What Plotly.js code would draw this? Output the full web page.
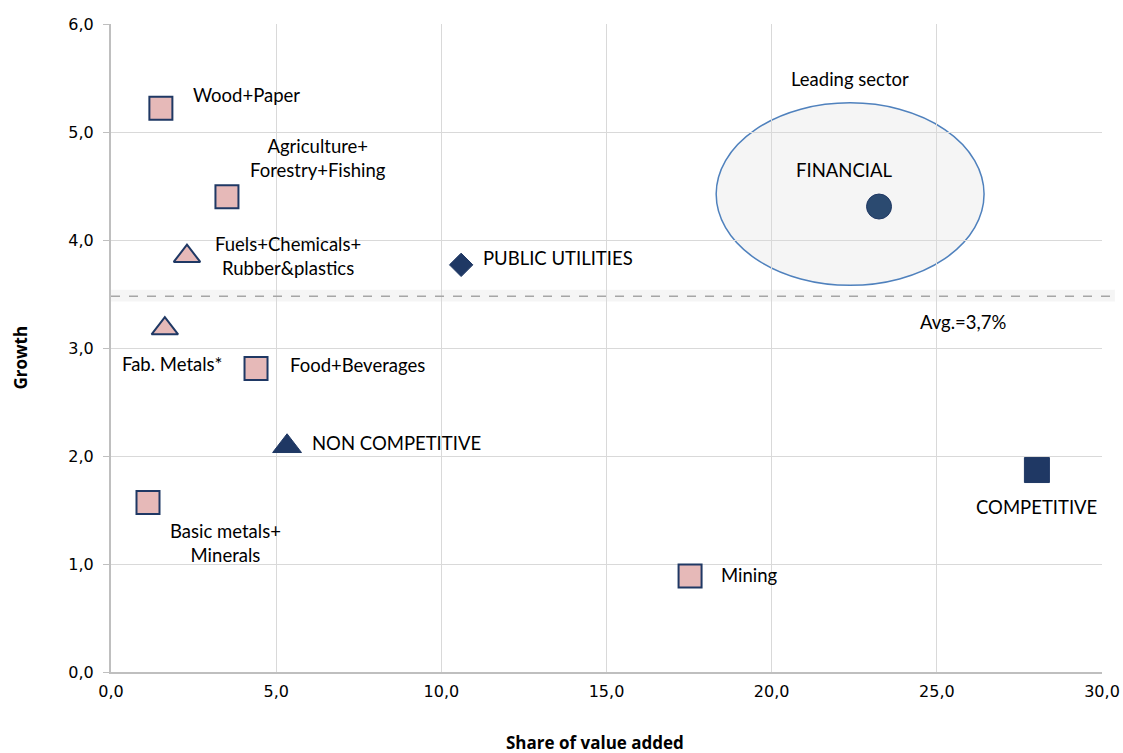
<!DOCTYPE html>
<html>
<head>
<meta charset="utf-8">
<script src="https://cdn.plot.ly/plotly-3.0.1.min.js"></script>
<style>html,body{margin:0;padding:0;background:#fff}#chart{width:1123px;height:753px}</style>
</head>
<body>
<div id="chart"></div>
<script>
// Data
const sectorNames = ["Wood+Paper","Agriculture+<br>Forestry+Fishing","Fuels+Chemicals+<br>Rubber&plastics","Fab. Metals*","Food+Beverages","Basic metals+<br>Minerals","Mining"];
const sectorShare = [1.51, 3.51, 2.30, 1.63, 4.39, 1.12, 17.53];
const sectorGrowth = [5.22, 4.40, 3.85, 3.18, 2.81, 1.57, 0.89];
const sectorSymbols = ["square","square","triangle-up","triangle-up","square","square","square"];

const groupNames = ["NON COMPETITIVE","PUBLIC UTILITIES","FINANCIAL","COMPETITIVE"];
const groupShare = [5.33, 10.6, 23.25, 28.03];
const groupGrowth = [2.09, 3.77, 4.31, 1.87];
const groupSymbols = ["triangle-up","diamond","circle","square"];

const avgGrowth = 3.48;
const avgLabel = "Avg.=3,7%";
const leadingEllipse = {x0: 18.32, x1: 26.43, y0: 3.58, y1: 5.27};
const leadingLabel = "Leading sector";
const xTitle = "Share of value added";
const yTitle = "Growth";

// label offsets (pixels) for readability
const sectorOffsets = [[86,13],[91,39],[101,0],[7,-35],[101,4],[77,-41],[59,1]];
const groupOffsets = [[109,3],[97,7],[-35,37],[0,-37]];

const labelFont = {family: "Lato, 'Open Sans', sans-serif", size: 18.5, color: "#000"};
const titleFont = {family: "'Open Sans', sans-serif", size: 17, color: "#000"};

const traces = [
  {
    type: "scatter", mode: "markers", x: sectorShare, y: sectorGrowth,
    marker: {symbol: sectorSymbols, size: sectorSymbols.map(s => s === "square" ? 23 : 23), opacity: 1,
      color: "#e6b9b8", line: {color: "#1f3864", width: 2}},
    hoverinfo: "skip", showlegend: false
  },
  {
    type: "scatter", mode: "markers", x: groupShare, y: groupGrowth,
    marker: {symbol: groupSymbols, size: [25, 18, 25, 25], opacity: 1,
      color: ["#1f3864","#1f3864","#2b4a70","#1f3864"], line: {color: "#1f3864", width: 1}},
    hoverinfo: "skip", showlegend: false
  }
];

const annotations = [];
sectorNames.forEach((n, i) => annotations.push({
  x: sectorShare[i], y: sectorGrowth[i], text: n, showarrow: false,
  xshift: sectorOffsets[i][0], yshift: sectorOffsets[i][1], font: labelFont, align: "center"
}));
groupNames.forEach((n, i) => annotations.push({
  x: groupShare[i], y: groupGrowth[i], text: n, showarrow: false,
  xshift: groupOffsets[i][0], yshift: groupOffsets[i][1], font: labelFont, align: "center"
}));
annotations.push({x: (leadingEllipse.x0 + leadingEllipse.x1) / 2, y: leadingEllipse.y1, text: leadingLabel,
  showarrow: false, yshift: 24, font: labelFont});
annotations.push({x: 25.8, y: avgGrowth, text: avgLabel, showarrow: false, yshift: -26, font: labelFont});
annotations.push({xref: "paper", yref: "paper", x: 0.488, y: -0.109, yanchor: "middle", xanchor: "center",
  text: "<b>" + xTitle + "</b>", showarrow: false, font: titleFont});
annotations.push({xref: "paper", yref: "paper", x: -0.091, y: 0.485, xanchor: "center", yanchor: "middle",
  textangle: -90, text: "<b>" + yTitle + "</b>", showarrow: false, font: titleFont});

const tickFont = {family: "'DejaVu Sans', Verdana, sans-serif", size: 16, color: "#000"};

const layout = {
  width: 1123, height: 753,
  margin: {l: 111, r: 21, t: 24, b: 81},
  paper_bgcolor: "#fff", plot_bgcolor: "#fff",
  separators: ", ",
  font: {family: "'DejaVu Sans', Verdana, sans-serif", size: 16, color: "#000"},
  xaxis: {
    range: [0, 30], dtick: 5, tickformat: ".1f", showgrid: true, gridcolor: "#d9d9d9", gridwidth: 1,
    zeroline: false, showline: true, linecolor: "#bfbfbf", linewidth: 2, ticks: "",
    tickfont: tickFont, ticklabelstandoff: 4
  },
  yaxis: {
    range: [0, 6], dtick: 1, tickformat: ".1f", showgrid: true, gridcolor: "#d9d9d9", gridwidth: 1,
    zeroline: false, showline: true, linecolor: "#bfbfbf", linewidth: 2, ticks: "outside", ticklen: 6, tickcolor: "#bfbfbf",
    tickfont: tickFont, ticklabelstandoff: 6
  },
  shapes: [
    {type: "rect", xref: "paper", yref: "y", x0: 0, x1: 1.013, y0: avgGrowth - 0.05, y1: avgGrowth + 0.06,
      fillcolor: "rgba(238,238,238,0.6)", line: {width: 0}, layer: "below"},
    {type: "line", xref: "paper", yref: "y", x0: 0, x1: 1.013, y0: avgGrowth, y1: avgGrowth,
      line: {color: "#a6a6a6", width: 1.5, dash: "dash"}},
    {type: "circle", xref: "x", yref: "y", x0: leadingEllipse.x0, x1: leadingEllipse.x1,
      y0: leadingEllipse.y0, y1: leadingEllipse.y1,
      fillcolor: "rgba(238,238,238,0.6)", line: {color: "#4f81bd", width: 1.5}, layer: "below"}
  ],
  annotations: annotations
};

Plotly.newPlot("chart", traces, layout, {displayModeBar: false, staticPlot: true});
</script>
</body>
</html>
